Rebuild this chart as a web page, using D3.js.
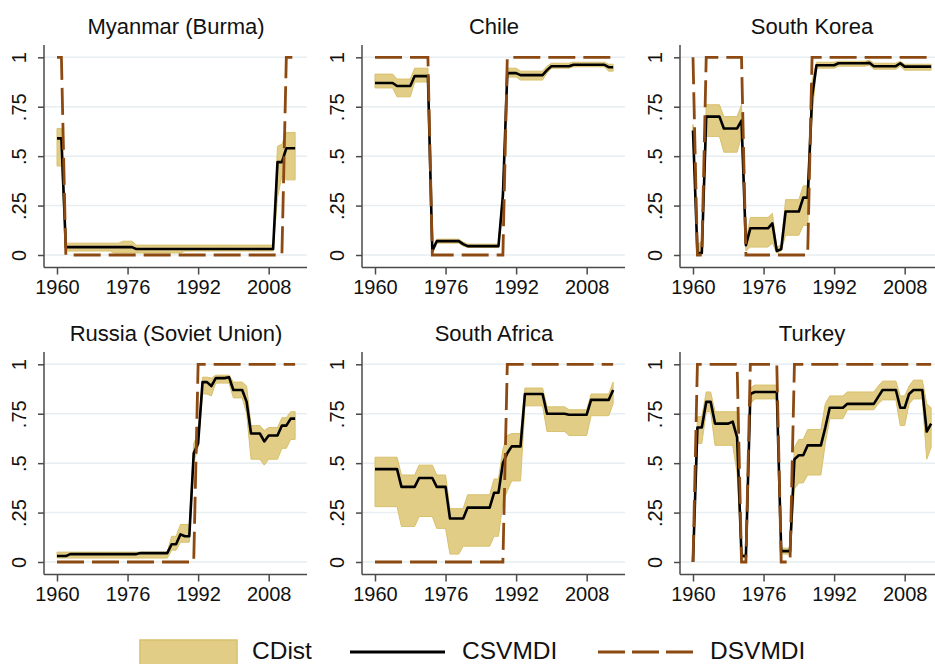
<!DOCTYPE html>
<html><head><meta charset="utf-8">
<script src="https://cdn.jsdelivr.net/npm/d3@7"></script>
<style>
body{margin:0;background:#fff;}
svg{display:block;font-family:"Liberation Sans",Arial,Helvetica,sans-serif;}
</style>
</head><body>
<svg id="chart" width="935" height="664"></svg>
<script>
// ---------------- DATA ----------------
const years = d3.range(1960, 2015); // 1960..2014
const xTicks = [1960, 1976, 1992, 2008];
const yTicks = [0, 0.25, 0.5, 0.75, 1];
const yTickLabels = ["0", ".25", ".5", ".75", "1"];
const countries = ["Myanmar (Burma)", "Chile", "South Korea", "Russia (Soviet Union)", "South Africa", "Turkey"];
const seriesNames = ["CDist", "CSVMDI", "DSVMDI"];

// Myanmar (Burma)
const myanmarCSV = [
 .59,.59,.04,.04,.04,.04,.04,.04,.04,.04,
 .04,.04,.04,.04,.04,.04,.04,.04,.03,.03,
 .03,.03,.03,.03,.03,.03,.03,.03,.03,.03,
 .03,.03,.03,.03,.03,.03,.03,.03,.03,.03,
 .03,.03,.03,.03,.03,.03,.03,.03,.03,.03,
 .47,.47,.54,.54,.54];
const myanmarDSV = [
 1,1,0,0,0,0,0,0,0,0,
 0,0,0,0,0,0,0,0,0,0,
 0,0,0,0,0,0,0,0,0,0,
 0,0,0,0,0,0,0,0,0,0,
 0,0,0,0,0,0,0,0,0,0,
 0,0,1,1,1];
const myanmarLo = [
 .45,.45,.02,.02,.02,.02,.02,.02,.02,.02,
 .02,.02,.02,.01,.01,.01,.01,.01,.01,.01,
 .01,.01,.01,.01,.01,.01,.01,.01,.01,.02,
 .02,.02,.02,.02,.02,.02,.02,.02,.02,.02,
 .02,.02,.02,.02,.02,.02,.02,.02,.02,.02,
 .29,.40,.38,.38,.38];
const myanmarHi = [
 .64,.64,.06,.06,.06,.06,.06,.06,.06,.06,
 .06,.06,.06,.06,.06,.07,.07,.07,.05,.05,
 .05,.05,.05,.05,.05,.05,.05,.05,.05,.05,
 .05,.05,.05,.05,.05,.05,.05,.05,.05,.05,
 .05,.05,.05,.05,.05,.05,.05,.05,.05,.05,
 .55,.56,.62,.62,.62];

// Chile
const chileCSV = [
 .87,.87,.87,.87,.87,.855,.855,.855,.855,.905,
 .905,.905,.905,.02,.07,.07,.07,.07,.07,.07,
 .055,.045,.045,.045,.045,.045,.045,.045,.045,.30,
 .92,.92,.92,.91,.91,.91,.91,.91,.91,.935,
 .955,.955,.955,.955,.955,.962,.962,.962,.962,.962,
 .962,.962,.962,.95,.95];
const chileDSV = [
 1,1,1,1,1,1,1,1,1,1,
 1,1,1,0,0,0,0,0,0,0,
 0,0,0,0,0,0,0,0,0,0,
 1,1,1,1,1,1,1,1,1,1,
 1,1,1,1,1,1,1,1,1,1,
 1,1,1,1,1];
const chileLo = [
 .845,.845,.845,.845,.845,.80,.80,.80,.80,.875,
 .875,.875,.875,.01,.06,.06,.06,.06,.06,.06,
 .045,.038,.038,.038,.038,.038,.038,.038,.038,.25,
 .90,.90,.90,.885,.885,.885,.885,.885,.885,.92,
 .945,.945,.945,.945,.945,.952,.952,.952,.952,.952,
 .952,.952,.952,.93,.93];
const chileHi = [
 .915,.915,.915,.915,.915,.89,.89,.89,.89,.945,
 .945,.945,.945,.035,.08,.08,.08,.08,.08,.08,
 .065,.055,.055,.055,.055,.055,.055,.055,.055,.35,
 .945,.945,.945,.93,.93,.93,.93,.93,.93,.955,
 .97,.97,.97,.97,.97,.975,.975,.975,.975,.975,
 .975,.975,.975,.965,.965];

// South Korea
const koreaCSV = [
 .63,.01,.01,.70,.70,.70,.70,.64,.64,.64,
 .64,.68,.05,.135,.135,.135,.135,.135,.16,.02,
 .03,.22,.22,.22,.22,.29,.29,.80,.96,.96,
 .96,.96,.96,.97,.97,.97,.97,.97,.97,.97,
 .972,.955,.955,.955,.955,.955,.955,.97,.953,.953,
 .953,.953,.953,.953,.953];
const koreaDSV = [
 1,0,0,1,1,1,1,1,1,1,
 1,1,0,0,0,0,0,0,0,0,
 0,0,0,0,0,0,0,1,1,1,
 1,1,1,1,1,1,1,1,1,1,
 1,1,1,1,1,1,1,1,1,1,
 1,1,1,1,1];
const koreaLo = [
 .60,0,0,.60,.60,.60,.60,.52,.52,.52,
 .52,.60,.02,.04,.04,.04,.04,.04,.06,.01,
 .02,.10,.10,.10,.10,.15,.15,.70,.945,.945,
 .945,.945,.945,.955,.955,.955,.955,.955,.955,.955,
 .96,.94,.94,.94,.94,.94,.94,.955,.935,.935,
 .935,.935,.935,.935,.935];
const koreaHi = [
 .66,.05,.07,.76,.76,.76,.76,.70,.70,.70,
 .70,.76,.07,.19,.19,.19,.19,.19,.21,.04,
 .05,.28,.28,.28,.28,.35,.35,.88,.975,.975,
 .975,.975,.975,.98,.98,.98,.98,.98,.98,.98,
 .985,.97,.97,.97,.97,.97,.97,.98,.965,.965,
 .965,.965,.965,.965,.965];

// Russia (Soviet Union)
const russiaCSV = [
 .03,.03,.03,.04,.04,.04,.04,.04,.04,.04,
 .04,.04,.04,.04,.04,.04,.04,.04,.04,.045,
 .045,.045,.045,.045,.045,.045,.09,.09,.14,.13,
 .13,.55,.60,.91,.91,.89,.93,.93,.93,.935,
 .87,.87,.87,.81,.65,.65,.65,.61,.64,.64,
 .64,.69,.69,.725,.725];
const russiaDSV = [
 0,0,0,0,0,0,0,0,0,0,
 0,0,0,0,0,0,0,0,0,0,
 0,0,0,0,0,0,0,0,0,0,
 0,0,1,1,1,1,1,1,1,1,
 1,1,1,1,1,1,1,1,1,1,
 1,1,1,1,1];
const russiaLo = [
 .02,.02,.02,.02,.02,.02,.02,.02,.02,.02,
 .02,.02,.02,.02,.02,.02,.02,.02,.02,.02,
 .02,.02,.02,.02,.02,.02,.06,.06,.10,.10,
 .10,.50,.58,.85,.85,.84,.905,.905,.905,.905,
 .83,.83,.83,.75,.52,.52,.52,.49,.52,.52,
 .52,.575,.575,.62,.62];
const russiaHi = [
 .05,.05,.05,.05,.05,.05,.05,.05,.05,.05,
 .05,.05,.05,.05,.05,.05,.05,.05,.05,.05,
 .05,.05,.05,.05,.05,.05,.13,.13,.19,.19,
 .19,.60,.65,.935,.935,.93,.945,.945,.945,.945,
 .91,.91,.91,.89,.69,.69,.69,.665,.68,.68,
 .68,.73,.73,.76,.76];

// South Africa
const safricaCSV = [
 .47,.47,.47,.47,.47,.47,.38,.38,.38,.38,
 .425,.425,.425,.425,.38,.38,.38,.22,.22,.22,
 .22,.275,.275,.275,.275,.275,.275,.35,.35,.50,
 .55,.585,.585,.585,.85,.85,.85,.85,.85,.75,
 .75,.75,.75,.75,.745,.745,.745,.745,.745,.82,
 .82,.82,.82,.82,.87];
const safricaDSV = [
 0,0,0,0,0,0,0,0,0,0,
 0,0,0,0,0,0,0,0,0,0,
 0,0,0,0,0,0,0,0,0,0,
 1,1,1,1,1,1,1,1,1,1,
 1,1,1,1,1,1,1,1,1,1,
 1,1,1,1,1];
const safricaLo = [
 .28,.28,.28,.28,.28,.28,.18,.18,.18,.18,
 .23,.23,.23,.23,.17,.17,.17,.04,.04,.04,
 .08,.08,.08,.08,.08,.08,.08,.13,.13,.30,
 .36,.41,.41,.41,.79,.79,.79,.79,.79,.66,
 .66,.66,.66,.66,.64,.64,.64,.64,.64,.74,
 .74,.74,.74,.74,.80];
const safricaHi = [
 .53,.53,.53,.53,.53,.53,.44,.44,.44,.44,
 .49,.49,.49,.49,.44,.44,.44,.27,.27,.27,
 .27,.34,.34,.34,.34,.34,.34,.42,.42,.57,
 .64,.65,.65,.65,.88,.88,.88,.88,.88,.785,
 .785,.785,.785,.785,.77,.77,.77,.77,.77,.85,
 .85,.85,.85,.85,.91];

// Turkey
const turkeyCSV = [
 0,.68,.68,.81,.81,.70,.70,.70,.70,.71,
 .63,.03,.03,.85,.86,.86,.86,.86,.86,.86,
 .055,.055,.055,.52,.54,.54,.59,.59,.59,.59,
 .68,.78,.78,.78,.78,.80,.80,.80,.80,.80,
 .80,.80,.835,.87,.87,.87,.87,.78,.78,.85,
 .87,.87,.87,.66,.70];
const turkeyDSV = [
 0,1,1,1,1,1,1,1,1,1,
 1,0,0,1,1,1,1,1,1,1,
 0,0,0,1,1,1,1,1,1,1,
 1,1,1,1,1,1,1,1,1,1,
 1,1,1,1,1,1,1,1,1,1,
 1,1,1,1,1];
const turkeyLo = [
 0,.60,.60,.76,.76,.59,.59,.59,.59,.59,
 .45,.02,.02,.80,.825,.825,.825,.825,.825,.825,
 .04,.04,.04,.37,.40,.40,.44,.44,.44,.44,
 .60,.725,.725,.725,.725,.77,.77,.77,.77,.77,
 .77,.77,.80,.82,.82,.82,.82,.69,.69,.80,
 .825,.825,.825,.52,.58];
const turkeyHi = [
 .02,.735,.735,.86,.86,.76,.76,.76,.76,.76,
 .76,.04,.04,.88,.895,.895,.895,.895,.895,.895,
 .07,.07,.07,.58,.62,.62,.67,.67,.67,.67,
 .80,.84,.84,.84,.84,.86,.86,.86,.86,.86,
 .86,.86,.89,.915,.915,.915,.915,.84,.84,.89,
 .92,.92,.92,.80,.78];

const csvSeries = [myanmarCSV, chileCSV, koreaCSV, russiaCSV, safricaCSV, turkeyCSV];
const dsvSeries = [myanmarDSV, chileDSV, koreaDSV, russiaDSV, safricaDSV, turkeyDSV];
const loSeries  = [myanmarLo, chileLo, koreaLo, russiaLo, safricaLo, turkeyLo];
const hiSeries  = [myanmarHi, chileHi, koreaHi, russiaHi, safricaHi, turkeyHi];

// ---------------- STYLE ----------------
const bandFill = "#e2cd86", bandStroke = "#d8c06c";
const lineColor = "#000000";
const dashColor = "#8c4a12";
const gridColor = "#e6eef1";
const axisColor = "#4a4a4a";

const svg = d3.select("#chart");
svg.append("rect").attr("width", 935).attr("height", 664).attr("fill", "#fff");

countries.forEach((name, i) => {
  const c = i % 3, r = Math.floor(i / 3);
  const ax = 44 + 318 * c;
  const oy = 307 * r;
  const x = d3.scaleLinear().domain([1960, 2014]).range([ax + 13, ax + 13 + 54 * 4.41]);
  const y = d3.scaleLinear().domain([0, 1]).range([255 + oy, 57.3 + oy]);
  const xAxisY = 267.5 + oy, plotRight = ax + 263, yAxisTop = 45 + oy;
  const g = svg.append("g");

  // gridlines
  g.selectAll(".grid").data(yTicks).join("line")
    .attr("x1", ax).attr("x2", plotRight)
    .attr("y1", d => y(d)).attr("y2", d => y(d))
    .attr("stroke", gridColor).attr("stroke-width", 1.5);

  const rows = years.map((yr, k) => ({yr, csv: csvSeries[i][k], dsv: dsvSeries[i][k], lo: loSeries[i][k], hi: hiSeries[i][k]}));

  g.append("path").datum(rows)
    .attr("d", d3.area().x(d => x(d.yr)).y0(d => y(d.lo)).y1(d => y(d.hi)))
    .attr("fill", bandFill).attr("stroke", bandStroke).attr("stroke-width", 1);

  g.append("path").datum(rows)
    .attr("d", d3.line().x(d => x(d.yr)).y(d => y(d.csv)))
    .attr("fill", "none").attr("stroke", lineColor).attr("stroke-width", 2.6)
    .attr("stroke-linejoin", "round");

  g.append("path").datum(rows)
    .attr("d", d3.line().x(d => x(d.yr)).y(d => y(d.dsv)))
    .attr("fill", "none").attr("stroke", dashColor).attr("stroke-width", 2.8)
    .attr("stroke-dasharray", "27,8");

  // axes lines
  g.append("line").attr("x1", ax).attr("x2", ax).attr("y1", yAxisTop).attr("y2", xAxisY)
    .attr("stroke", axisColor).attr("stroke-width", 1.5);
  g.append("line").attr("x1", ax).attr("x2", plotRight).attr("y1", xAxisY).attr("y2", xAxisY)
    .attr("stroke", axisColor).attr("stroke-width", 1.5);

  const xa = g.append("g").attr("transform", `translate(0,${xAxisY})`)
    .call(d3.axisBottom(x).tickValues(xTicks).tickSize(7).tickSizeOuter(0).tickFormat(d3.format("d")));
  xa.select(".domain").remove();
  xa.selectAll("line").attr("stroke", axisColor).attr("stroke-width", 1.5);
  xa.selectAll("text").attr("y", 26.5).attr("dy", null)
    .attr("font-size", 20).attr("font-family", "Liberation Sans, Arial, sans-serif").attr("fill", "#111");

  const ya = g.append("g").attr("transform", `translate(${ax},0)`)
    .call(d3.axisLeft(y).tickValues(yTicks).tickSize(6).tickSizeOuter(0).tickFormat((d, k) => yTickLabels[k]));
  ya.select(".domain").remove();
  ya.selectAll("line").attr("stroke", axisColor).attr("stroke-width", 1.5);
  ya.selectAll("text").attr("transform", "rotate(-90)").attr("x", 0).attr("y", -18).attr("dy", null)
    .style("text-anchor", "middle")
    .attr("font-size", 20).attr("font-family", "Liberation Sans, Arial, sans-serif").attr("fill", "#111");

  g.append("text").attr("x", ax + 132).attr("y", 34 + oy)
    .attr("text-anchor", "middle").attr("font-size", 22).attr("fill", "#111").text(name);
});

// ---------------- LEGEND ----------------
const lg = svg.append("g");
lg.append("rect").attr("x", 140).attr("y", 640).attr("width", 97).attr("height", 32)
  .attr("fill", bandFill).attr("stroke", bandStroke).attr("stroke-width", 1.5);
lg.append("text").attr("x", 252).attr("y", 658.5).attr("font-size", 24.5).attr("fill", "#111").text(seriesNames[0]);
lg.append("line").attr("x1", 350).attr("x2", 445).attr("y1", 652).attr("y2", 652)
  .attr("stroke", lineColor).attr("stroke-width", 3);
lg.append("text").attr("x", 462).attr("y", 658.5).attr("font-size", 24.5).attr("fill", "#111").text(seriesNames[1]);
lg.append("line").attr("x1", 598).attr("x2", 693).attr("y1", 652).attr("y2", 652)
  .attr("stroke", dashColor).attr("stroke-width", 3).attr("stroke-dasharray", "27,7");
lg.append("text").attr("x", 710).attr("y", 658.5).attr("font-size", 24.5).attr("fill", "#111").text(seriesNames[2]);
</script>
</body></html>
